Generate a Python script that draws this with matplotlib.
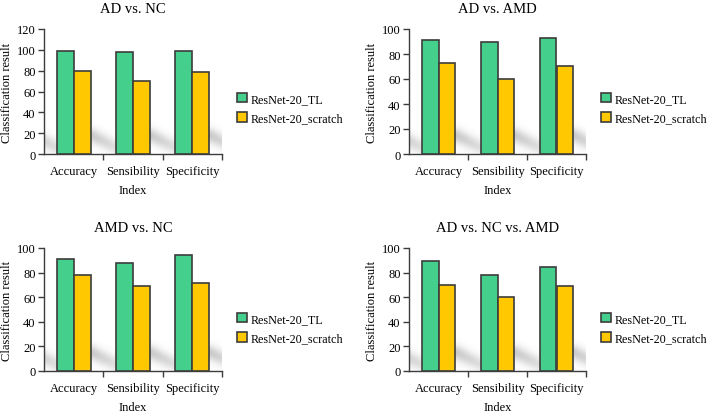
import numpy as np
import matplotlib
matplotlib.use("Agg")
import matplotlib.pyplot as plt

plt.rcParams['font.family'] = ['Liberation Serif', 'DejaVu Serif']

categories = ["Accuracy", "Sensibility", "Specificity"]
series_names = ["ResNet-20_TL", "ResNet-20_scratch"]
titles = ["AD vs. NC", "AD vs. AMD", "AMD vs. NC", "AD vs. NC vs. AMD"]

tl_ad_nc = [99.2, 97.6, 98.6]
sc_ad_nc = [80.0, 70.3, 78.7]
tl_ad_amd = [91.4, 90.0, 93.0]
sc_ad_amd = [72.5, 60.1, 70.4]
tl_amd_nc = [91.0, 88.0, 94.0]
sc_amd_nc = [77.7, 69.5, 71.4]
tl_all = [89.6, 77.7, 84.2]
sc_all = [70.3, 60.5, 69.5]

ymaxes = [120, 100, 100, 100]
panels = [(tl_ad_nc, sc_ad_nc), (tl_ad_amd, sc_ad_amd),
          (tl_amd_nc, sc_amd_nc), (tl_all, sc_all)]

W, H = 708, 414
fig = plt.figure(figsize=(W / 100, H / 100), dpi=100)

# axes rects in pixels: left, top, right, bottom
rects_px = [(44, 30, 222, 155), (409, 30, 586, 155),
            (44, 249, 222, 372), (409, 249, 586, 372)]
legend_px = [(237, 109.5), (601, 109.5), (237, 329.5), (601, 329.5)]

green = "#45CF8C"
yellow = "#FFC800"
edge = "#3C3C3C"
bw = 0.285
fs = 9
lfs = 8.7


def add_shadow(ax, ymax, wpx, hpx):
    xpu = wpx / 3.0
    ypu = hpx / ymax
    nx, ny = int(wpx * 2), 80
    ytop_px = 40.0
    xs = np.linspace(0, wpx, nx)
    ys = np.linspace(0, ytop_px, ny)
    X, Y = np.meshgrid(xs, ys)
    A = np.zeros_like(X)
    for g in range(-1, 3):
        x0 = (g + bw + 0.5) * xpu  # right edge of yellow bar, pixel from axes left
        y0 = 19.0
        x1, y1 = x0 + 28.0, 5.0
        vx, vy = x1 - x0, y1 - y0
        L2 = vx * vx + vy * vy
        t = ((X - x0) * vx + (Y - y0) * vy) / L2
        tc = np.clip(t, 0, 1)
        px = x0 + tc * vx
        py = y0 + tc * vy
        d = np.hypot(X - px, Y - py)
        fade = np.clip(1.0 - 0.45 * tc, 0, 1) * np.exp(-np.clip(-t, 0, None) * 4)
        A = np.maximum(A, 0.42 * np.exp(-(d / 7.0) ** 2) * fade)
    img = np.zeros((ny, nx, 4))
    img[..., :3] = 0.5
    img[..., 3] = A
    ax.imshow(img, extent=(-0.5, 2.5, 0, ytop_px / ypu), origin='lower',
              aspect='auto', zorder=1, interpolation='bilinear')


for i, (tl, sc) in enumerate(panels):
    l, t, r, b = rects_px[i]
    ax = fig.add_axes([l / W, (H - b) / H, (r - l) / W, (b - t) / H])
    x = np.arange(len(categories))
    ax.bar(x - bw / 2, tl, bw, color=green, edgecolor=edge, linewidth=1.2,
           zorder=3, label=series_names[0])
    ax.bar(x + bw / 2, sc, bw, color=yellow, edgecolor=edge, linewidth=1.2,
           zorder=3, label=series_names[1])
    ymax = ymaxes[i]
    add_shadow(ax, ymax, r - l, b - t)
    ax.set_xlim(-0.5, 2.5)
    ax.set_ylim(0, ymax)
    ax.set_yticks(np.arange(0, ymax + 1, 20))
    ax.set_xticks([0.5, 1.5, 2.5])
    ax.set_xticklabels([])
    ax.set_xticks(x, minor=True)
    ax.set_xticklabels(categories, minor=True, fontsize=fs)
    ax.tick_params(axis='x', which='minor', length=0, pad=8)
    ax.tick_params(axis='x', which='major', length=4, width=1, direction='out', color=edge)
    ax.tick_params(axis='y', length=4, width=1, direction='out', labelsize=fs, color=edge, pad=2)
    for s in ['top', 'right']:
        ax.spines[s].set_visible(False)
    for s in ['left', 'bottom']:
        ax.spines[s].set_color(edge)
        ax.spines[s].set_linewidth(1.0)
    ax.set_title(titles[i], fontsize=10.5, pad=12)
    ax.set_xlabel("Index", fontsize=fs, labelpad=5)
    ax.set_ylabel("Classification result", fontsize=fs, labelpad=3)
    lx, ly = legend_px[i]
    ax.legend(loc='center left', bbox_to_anchor=(lx / W, (H - ly) / H),
              bbox_transform=fig.transFigure, frameon=False, fontsize=lfs,
              handlelength=0.8, handleheight=0.8, handletextpad=0.3,
              borderpad=0, borderaxespad=0, labelspacing=0.6)

fig.savefig("out.png", dpi=100)
